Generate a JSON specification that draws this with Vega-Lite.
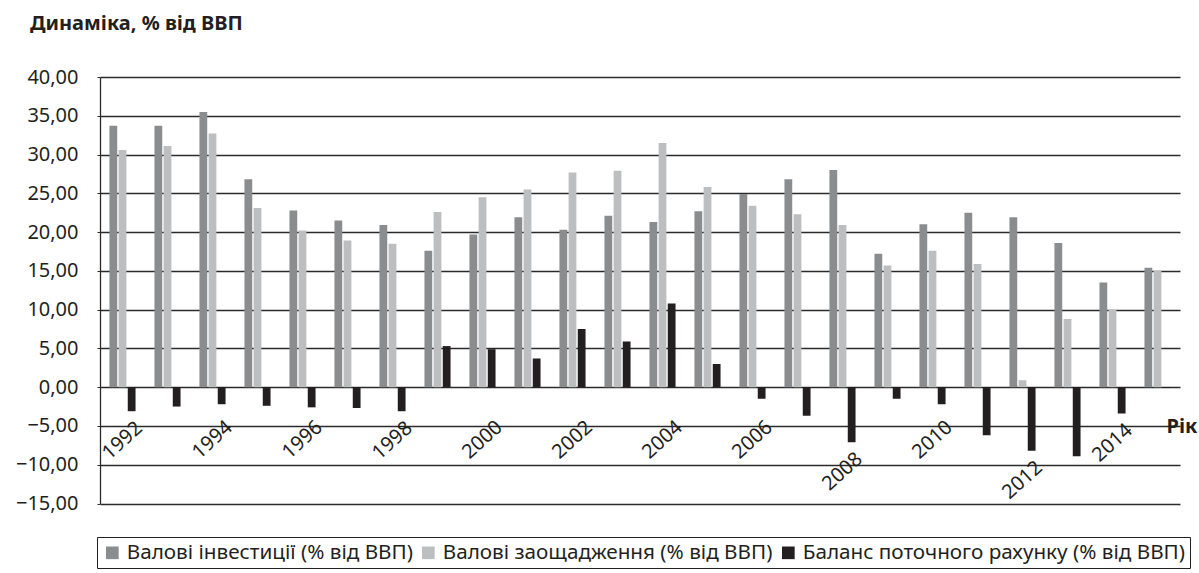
{
  "$schema": "https://vega.github.io/schema/vega-lite/v6.json",
  "width": 1080,
  "height": 426.5,
  "autosize": {"type": "none"},
  "padding": {"left": 100, "top": 77, "right": 19, "bottom": 69.5},
  "background": "white",
  "config": {
    "view": {"stroke": null},
    "font": "Noto Sans"
  },
  "title": {
    "text": "Динаміка, % від ВВП",
    "anchor": "start",
    "frame": "group",
    "dx": -70,
    "offset": 33,
    "fontSize": 20,
    "fontWeight": "bold",
    "color": "#231f20"
  },
  "data": {
    "values": [
      {"year": 1992, "investment": 33.7, "savings": 30.6, "balance": -3.1},
      {"year": 1993, "investment": 33.7, "savings": 31.1, "balance": -2.5},
      {"year": 1994, "investment": 35.5, "savings": 32.7, "balance": -2.2},
      {"year": 1995, "investment": 26.8, "savings": 23.1, "balance": -2.4},
      {"year": 1996, "investment": 22.8, "savings": 20.2, "balance": -2.6},
      {"year": 1997, "investment": 21.5, "savings": 18.9, "balance": -2.7},
      {"year": 1998, "investment": 20.9, "savings": 18.5, "balance": -3.1},
      {"year": 1999, "investment": 17.6, "savings": 22.6, "balance": 5.3},
      {"year": 2000, "investment": 19.7, "savings": 24.5, "balance": 4.9},
      {"year": 2001, "investment": 21.9, "savings": 25.5, "balance": 3.7},
      {"year": 2002, "investment": 20.3, "savings": 27.7, "balance": 7.5},
      {"year": 2003, "investment": 22.1, "savings": 27.9, "balance": 5.9},
      {"year": 2004, "investment": 21.3, "savings": 31.5, "balance": 10.8},
      {"year": 2005, "investment": 22.7, "savings": 25.8, "balance": 3.0},
      {"year": 2006, "investment": 24.9, "savings": 23.4, "balance": -1.5},
      {"year": 2007, "investment": 26.8, "savings": 22.3, "balance": -3.7},
      {"year": 2008, "investment": 28.0, "savings": 20.9, "balance": -7.1},
      {"year": 2009, "investment": 17.2, "savings": 15.7, "balance": -1.5},
      {"year": 2010, "investment": 21.0, "savings": 17.6, "balance": -2.2},
      {"year": 2011, "investment": 22.5, "savings": 15.9, "balance": -6.2},
      {"year": 2012, "investment": 21.9, "savings": 0.9, "balance": -8.2},
      {"year": 2013, "investment": 18.6, "savings": 8.8, "balance": -8.9},
      {"year": 2014, "investment": 13.5, "savings": 10.0, "balance": -3.4},
      {"year": 2015, "investment": 15.4, "savings": 15.0, "balance": -0.1}
    ]
  },
  "encoding": {
    "x": {
      "field": "year",
      "type": "ordinal",
      "scale": {"paddingInner": 0.42, "paddingOuter": 0.21},
      "axis": {
        "labels": false,
        "ticks": false,
        "domain": false,
        "grid": false,
        "title": "Рік",
        "titleFontSize": 20,
        "titleFontWeight": "bold",
        "titleColor": "#231f20",
        "titleAlign": "left",
        "titleBaseline": "middle",
        "titleX": 1066,
        "titleY": -77.5
      }
    }
  },
  "layer": [
    {
      "transform": [
        {"fold": ["investment", "savings", "balance"], "as": ["series", "value"]}
      ],
      "mark": {"type": "bar"},
      "encoding": {
        "xOffset": {
          "field": "series",
          "type": "nominal",
          "sort": ["investment", "savings", "balance"],
          "scale": {"paddingInner": 0.15}
        },
        "y": {
          "field": "value",
          "type": "quantitative",
          "scale": {"domain": [-15, 40], "nice": false, "zero": false},
          "axis": {
            "title": null,
            "values": [-15, -10, -5, 0, 5, 10, 15, 20, 25, 30, 35, 40],
            "tickCount": 24,
            "labelOverlap": false,
            "labelExpr": "replace(format(datum.value, '.2f'), '.', ',')",
            "grid": true,
            "gridColor": "#2b2b2b",
            "gridWidth": 1.3,
            "domainColor": "#2b2b2b",
            "domainWidth": 1.3,
            "tickColor": "#2b2b2b",
            "tickSize": 3,
            "labelFontSize": 20,
            "labelColor": "#231f20",
            "labelPadding": 19
          }
        },
        "color": {
          "field": "series",
          "type": "nominal",
          "scale": {
            "domain": ["investment", "savings", "balance"],
            "range": ["#8b8c8e", "#bdbec0", "#231f20"]
          },
          "legend": {
            "title": null,
            "orient": "none",
            "legendX": -3,
            "legendY": 460,
            "direction": "horizontal",
            "symbolType": "square",
            "symbolSize": 160,
            "symbolStrokeWidth": 0,
            "labelFontSize": 20.7,
            "labelColor": "#231f20",
            "labelLimit": 500,
            "labelOffset": 4,
            "strokeColor": "#231f20",
            "padding": 5,
            "columnPadding": 5,
            "labelExpr": "datum.value == 'investment' ? 'Валові інвестиції (% від ВВП)' : datum.value == 'savings' ? 'Валові заощадження (% від ВВП)' : 'Баланс поточного рахунку (% від ВВП)'"
          }
        }
      }
    },
    {
      "transform": [
        {"filter": "datum.year % 2 == 0"},
        {"calculate": "min(-6.8, datum.balance - 3.8)", "as": "labelAt"}
      ],
      "mark": {
        "type": "text",
        "angle": 318,
        "fontSize": 20,
        "align": "center",
        "baseline": "middle",
        "color": "#231f20"
      },
      "encoding": {
        "y": {"field": "labelAt", "type": "quantitative", "title": null},
        "text": {"field": "year", "type": "ordinal"}
      }
    }
  ]
}
